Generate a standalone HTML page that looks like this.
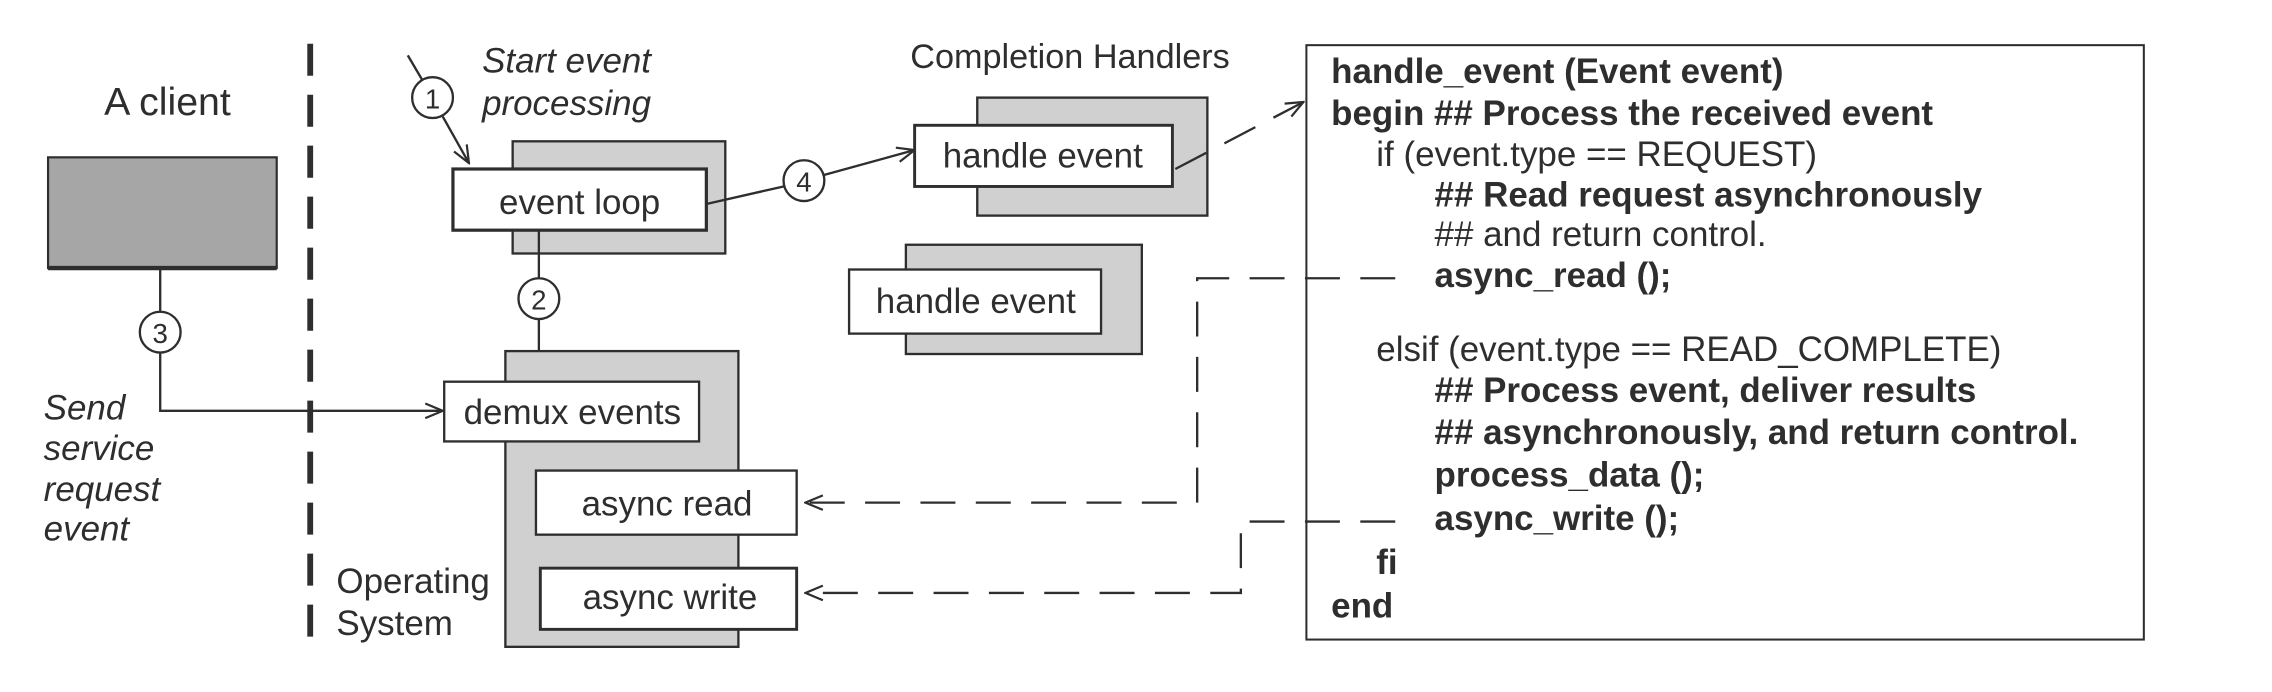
<!DOCTYPE html>
<html><head><meta charset="utf-8"><style>
html,body{margin:0;padding:0;background:#fff;}
svg{display:block;}
text{font-family:"Liberation Sans",sans-serif;fill:#2e2e2e;}
.b{font-weight:bold;}
</style></head><body>
<svg width="2272" height="692" viewBox="0 0 1560 475" preserveAspectRatio="none" xmlns="http://www.w3.org/2000/svg">
<defs>
<marker id="ar" markerWidth="14" markerHeight="12" refX="13" refY="6" orient="auto" markerUnits="userSpaceOnUse">
<path d="M1,1 L13,6 L1,11" fill="none" stroke="#2e2e2e" stroke-width="1.5"/>
</marker>
</defs>
<g stroke="#2e2e2e" fill="none" stroke-width="1.6">
<line x1="213" y1="30" x2="213" y2="448" stroke-width="4" stroke-dasharray="22,13"/>
<rect x="33" y="108" width="157" height="76" fill="#a6a6a6" stroke-width="1.5"/>
<line x1="33" y1="184" x2="190" y2="184" stroke-width="3"/>
<line x1="110" y1="184" x2="110" y2="214"/>
<circle cx="110" cy="228" r="14" fill="#fff"/>
<polyline points="110,242 110,282 304,282" marker-end="url(#ar)"/>
<line x1="280" y1="38" x2="290" y2="55"/>
<circle cx="297" cy="67" r="14" fill="#fff"/>
<line x1="304" y1="80" x2="322" y2="112" marker-end="url(#ar)"/>
<rect x="352" y="97" width="146" height="77" fill="#d0d0d0"/>
<rect x="311" y="116" width="174" height="42" fill="#fff" stroke-width="2.2"/>
<line x1="370" y1="158" x2="370" y2="191"/>
<circle cx="370" cy="205" r="14" fill="#fff"/>
<line x1="370" y1="219" x2="370" y2="262" marker-end="url(#ar)"/>
<rect x="347" y="241" width="160" height="203" fill="#d0d0d0"/>
<rect x="305" y="262" width="175" height="41" fill="#fff"/>
<rect x="368" y="323" width="179" height="44" fill="#fff"/>
<rect x="371" y="390" width="176" height="42" fill="#fff" stroke-width="2"/>
<line x1="485" y1="140" x2="538" y2="128"/>
<circle cx="552" cy="124" r="14" fill="#fff"/>
<line x1="566" y1="120" x2="628" y2="103" marker-end="url(#ar)"/>
<rect x="671" y="67" width="158" height="81" fill="#d0d0d0"/>
<rect x="628" y="86" width="177" height="42" fill="#fff" stroke-width="2"/>
<line x1="807" y1="116" x2="895" y2="70" stroke-dasharray="24,14" marker-end="url(#ar)"/>
<rect x="622" y="168" width="162" height="75" fill="#d0d0d0"/>
<rect x="583" y="185" width="173" height="44" fill="#fff"/>
<rect x="897" y="31" width="575" height="408" fill="#fff" stroke-width="1.4"/>
<polyline points="958,191 822,191 822,345 553,345" stroke-dasharray="24,14" marker-end="url(#ar)"/>
<polyline points="958,358 852,358 852,407 553,407" stroke-dasharray="24,14" marker-end="url(#ar)"/>
</g>
<g font-size="24" dominant-baseline="central">
<text x="115" y="70" text-anchor="middle" font-size="27">A client</text>
<text x="110" y="229" text-anchor="middle" font-size="19">3</text>
<text x="297" y="68" text-anchor="middle" font-size="19">1</text>
<text x="370" y="206" text-anchor="middle" font-size="19">2</text>
<text x="552" y="125" text-anchor="middle" font-size="19">4</text>
<g font-style="italic">
<text x="30" y="280">Send</text>
<text x="30" y="308">service</text>
<text x="30" y="336">request</text>
<text x="30" y="363">event</text>
<text x="331" y="42">Start event</text>
<text x="331" y="71">processing</text>
</g>
<text x="398" y="139" text-anchor="middle">event loop</text>
<text x="393" y="283" text-anchor="middle">demux events</text>
<text x="458" y="346" text-anchor="middle">async read</text>
<text x="460" y="410" text-anchor="middle">async write</text>
<text x="231" y="399">Operating</text>
<text x="231" y="428">System</text>
<text x="625" y="39" font-size="23.5">Completion Handlers</text>
<text x="716" y="107" text-anchor="middle">handle event</text>
<text x="670" y="207" text-anchor="middle">handle event</text>
<text class="b" x="914" y="49">handle_event (Event event)</text>
<text class="b" x="914" y="78">begin ## Process the received event</text>
<text x="945" y="106">if (event.type == REQUEST)</text>
<text class="b" x="985" y="134">## Read request asynchronously</text>
<text x="985" y="161">## and return control.</text>
<text class="b" x="985" y="189">async_read ();</text>
<text x="945" y="240">elsif (event.type == READ_COMPLETE)</text>
<text class="b" x="985" y="268">## Process event, deliver results</text>
<text class="b" x="985" y="297">## asynchronously, and return control.</text>
<text class="b" x="985" y="326">process_data ();</text>
<text class="b" x="985" y="356">async_write ();</text>
<text class="b" x="945" y="386">fi</text>
<text class="b" x="914" y="416">end</text>
</g>
</svg>
</body></html>
